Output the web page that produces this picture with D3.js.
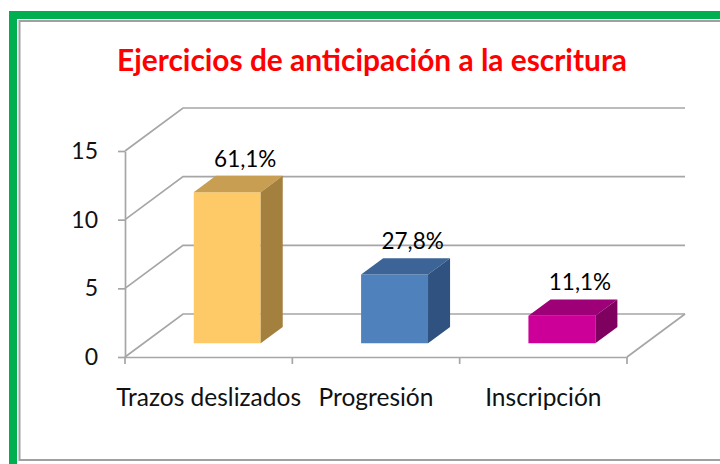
<!DOCTYPE html>
<html>
<head>
<meta charset="utf-8">
<script src="https://cdn.jsdelivr.net/npm/d3@7"></script>
<style>
  body { margin: 0; background: #fff; }
  svg { display: block; font-family: Lato, "Open Sans", sans-serif; }
</style>
</head>
<body>
<svg id="chart"></svg>
<script>
const WIDTH = 720;
const HEIGHT = 464;

// chart data
const categories = ["Trazos deslizados", "Progresión", "Inscripción"];
const values = [11, 5, 2];
const percentLabels = ["61,1%", "27,8%", "11,1%"];
const yTicks = [0, 5, 10, 15];
const frontColors = ["#FDCA67", "#4F81BD", "#CC0099"];
const topColors = ["#C89E52", "#3C6496", "#9E0077"];
const sideColors = ["#A4803F", "#2F5280", "#7E005F"];

const SVG = d3.select("#chart")
    .attr("width", WIDTH)
    .attr("height", HEIGHT);

// frame: green outer, gray inner
SVG.append("rect")
    .attr("x", 13).attr("y", 15)
    .attr("width", WIDTH).attr("height", HEIGHT)
    .attr("fill", "none")
    .attr("stroke", "#00B050")
    .attr("stroke-width", 8);
SVG.append("rect")
    .attr("x", 19.5).attr("y", 21)
    .attr("width", WIDTH).attr("height", 439)
    .attr("fill", "#fff")
    .attr("stroke", "#A0A0A0")
    .attr("stroke-width", 2);

SVG.append("text")
    .attr("x", 372).attr("y", 71)
    .attr("text-anchor", "middle")
    .attr("fill", "#FF0000")
    .attr("font-weight", "bold")
    .attr("font-size", 30)
    .attr("textLength", 510)
    .attr("lengthAdjust", "spacingAndGlyphs")
    .text("Ejercicios de anticipación a la escritura");

const plot = { left: 125, right: 627, top: 151, bottom: 357 };
const DX = 58, DY = -43;            // depth of the 3D box
const barFront = 0.32, barBack = 0.70; // bar position along depth

const x = d3.scaleBand()
    .domain(categories)
    .range([plot.left, plot.right])
    .paddingInner(0.6)
    .paddingOuter(0.3);

const y = d3.scaleLinear()
    .domain([0, 15])
    .range([plot.bottom, plot.top]);

const proj = (px, py, z) => [px + z * DX, py + z * DY];
const gridColor = "#A6A6A6";

// side wall + back wall gridlines
const grid = SVG.append("g")
    .attr("fill", "none")
    .attr("stroke", gridColor)
    .attr("stroke-width", 1.7);

grid.selectAll("path.g")
    .data(yTicks)
    .join("path")
    .attr("class", "g")
    .attr("d", t => {
        const a = proj(plot.left, y(t), 0);
        const b = proj(plot.left, y(t), 1);
        const c = proj(plot.right, y(t), 1);
        return d3.line()([a, b, c]);
    });

// floor right edge
grid.append("path")
    .attr("d", d3.line()([proj(plot.right, y(0), 0), proj(plot.right, y(0), 1)]));

// y axis
const yAxis = SVG.append("g")
    .attr("transform", `translate(${plot.left},0)`)
    .call(d3.axisLeft(y).tickValues(yTicks).tickSize(7).tickSizeOuter(0).tickPadding(20));
yAxis.selectAll("path, line").attr("stroke", gridColor).attr("stroke-width", 1.7);
yAxis.selectAll("text")
    .attr("font-family", "Lato, sans-serif")
    .attr("font-size", 23)
    .attr("fill", "#111");

// x axis (labels at band centres, ticks at category boundaries)
const xAxis = SVG.append("g")
    .attr("transform", `translate(0,${plot.bottom})`)
    .call(d3.axisBottom(x).tickSize(0).tickSizeOuter(0).tickPadding(32));
xAxis.select(".domain").attr("stroke", gridColor).attr("stroke-width", 1.7);
xAxis.selectAll("text")
    .attr("font-family", "Lato, sans-serif")
    .attr("font-size", 24.5)
    .attr("fill", "#111");

const bounds = d3.range(categories.length + 1).map(i => plot.left + i * x.step());
xAxis.selectAll("line.b")
    .data(bounds)
    .join("line")
    .attr("class", "b")
    .attr("x1", d => d).attr("x2", d => d)
    .attr("y1", 0).attr("y2", 7)
    .attr("stroke", gridColor)
    .attr("stroke-width", 1.7);

// 3D bars
const bars = SVG.append("g")
    .selectAll("g")
    .data(categories)
    .join("g");

bars.each(function(c, i) {
    const g = d3.select(this);
    const x0 = x(c), x1 = x(c) + x.bandwidth();
    const y0 = y(0), y1 = y(values[i]);
    const poly = pts => "M" + pts.map(p => p.join(",")).join("L") + "Z";

    // front
    g.append("path")
        .attr("fill", frontColors[i])
        .attr("d", poly([proj(x0, y0, barFront), proj(x1, y0, barFront),
                         proj(x1, y1, barFront), proj(x0, y1, barFront)]));
    // top
    g.append("path")
        .attr("fill", topColors[i])
        .attr("d", poly([proj(x0, y1, barFront), proj(x1, y1, barFront),
                         proj(x1, y1, barBack), proj(x0, y1, barBack)]));
    // right side
    g.append("path")
        .attr("fill", sideColors[i])
        .attr("d", poly([proj(x1, y0, barFront), proj(x1, y0, barBack),
                         proj(x1, y1, barBack), proj(x1, y1, barFront)]));

    const top = proj(x0 + x.bandwidth() / 2, y1, barBack);
    g.append("text")
        .attr("x", top[0] - 4)
        .attr("y", top[1] - 9)
        .attr("text-anchor", "middle")
        .attr("font-size", 22.5)
        .attr("fill", "#000")
        .text(percentLabels[i]);
});
</script>
</body>
</html>
